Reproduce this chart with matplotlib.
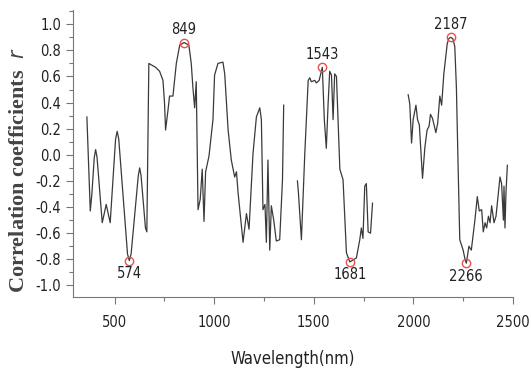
import matplotlib
matplotlib.use("Agg")
import matplotlib.pyplot as plt
import numpy as np
from matplotlib.ticker import MultipleLocator

plt.rcParams['font.family'] = ['DejaVu Sans']
plt.rcParams['font.stretch'] = 'condensed'

# four separate spectral pieces (gaps are water bands)
wl_1 = [361, 378, 386, 398, 405, 412, 438, 458, 478, 505, 513, 521, 565, 574, 583, 619, 626, 633, 655,
        662, 672, 706, 726, 743, 751, 756, 768, 776, 793,
        810, 827, 849, 873, 885, 893, 902, 910, 919, 930, 940, 949, 957, 974, 994, 1002, 1019, 1044, 1053,
        1070, 1086, 1103, 1112, 1120, 1145, 1162, 1175, 1195, 1212, 1229, 1237, 1245, 1255, 1262, 1270,
        1279, 1287, 1299, 1312, 1329, 1343, 1349]
r_1 = [0.29, -0.43, -0.30, -0.02, 0.04, -0.02, -0.52, -0.38, -0.52, 0.12, 0.18, 0.12, -0.76, -0.81, -0.76,
       -0.16, -0.10, -0.16, -0.56, -0.59, 0.70, 0.67, 0.64, 0.57, 0.39,
       0.19, 0.34, 0.45, 0.45, 0.70, 0.84, 0.86, 0.84, 0.70, 0.52, 0.36, 0.56, -0.42, -0.34, -0.11, -0.51,
       -0.13, -0.01, 0.27, 0.61, 0.70, 0.71, 0.62, 0.19, -0.04, -0.17, -0.13, -0.29, -0.67, -0.45, -0.57,
       0.01, 0.29, 0.36, 0.27, -0.42, -0.38, -0.67, -0.04, -0.73, -0.39, -0.50, -0.66, -0.65, -0.19, 0.38]

wl_2 = [1418, 1423, 1438, 1455, 1472, 1480, 1488, 1505, 1513, 1527, 1543, 1553, 1563, 1572, 1580, 1589,
        1597, 1605, 1614, 1631, 1647, 1664, 1681, 1714, 1731, 1739, 1747, 1756, 1764, 1773, 1785, 1795]
r_2 = [-0.20, -0.29, -0.65, 0.01, 0.57, 0.59, 0.56, 0.57, 0.55, 0.57, 0.67, 0.27, 0.05, 0.39, 0.64, 0.61,
       0.27, 0.62, 0.60, -0.11, -0.19, -0.75, -0.82, -0.79, -0.65, -0.56, -0.64, -0.24, -0.22, -0.59,
       -0.60, -0.37]

wl_3 = [1974, 1982, 1991, 1999, 2013, 2021, 2030, 2046, 2058, 2069, 2079, 2086, 2096, 2113, 2122, 2133,
        2142, 2153, 2170, 2178, 2187, 2198, 2208, 2216, 2225, 2233, 2250, 2258, 2266, 2279, 2291, 2309, 2321,
        2331, 2343, 2351, 2360, 2368, 2377, 2385, 2393, 2405, 2415, 2427, 2435, 2443, 2452, 2455, 2460,
        2465, 2472]
r_3 = [0.46, 0.39, 0.09, 0.27, 0.38, 0.27, 0.23, -0.18, 0.06, 0.19, 0.22, 0.31, 0.28, 0.17, 0.24, 0.45,
       0.38, 0.62, 0.85, 0.89, 0.90, 0.89, 0.83, 0.52, -0.11, -0.65, -0.73, -0.79, -0.83, -0.70, -0.73,
       -0.50, -0.32, -0.43, -0.42, -0.59, -0.52, -0.56, -0.47, -0.52, -0.39, -0.52, -0.47, -0.29, -0.17,
       -0.22, -0.50, -0.24, -0.56, -0.29, -0.08]

# marked extrema
peak_wl = [574, 849, 1543, 1681, 2187, 2266]
peak_r = [-0.81, 0.86, 0.67, -0.82, 0.90, -0.83]
peak_up = [False, True, True, False, True, False]

y_ticks = [-1.0, -0.8, -0.6, -0.4, -0.2, 0.0, 0.2, 0.4, 0.6, 0.8, 1.0]

fig = plt.figure(figsize=(5.31, 3.80), dpi=100)
ax = fig.add_axes([0.137, 0.218, 0.829, 0.756])

for wl, r in [(wl_1, r_1), (wl_2, r_2), (wl_3, r_3)]:
    ax.plot(wl, r, color='#3a3a3a', lw=0.9)

ax.plot(peak_wl, peak_r, 'o', mfc='none', mec='#e8504f', ms=6, mew=1.0)
for w, r, up in zip(peak_wl, peak_r, peak_up):
    if up:
        ax.annotate(str(w), (w, r), xytext=(0, 4), textcoords='offset points',
                    ha='center', va='bottom', fontsize=10.5, color='#222222')
    else:
        ax.annotate(str(w), (w, r), xytext=(0, -4), textcoords='offset points',
                    ha='center', va='top', fontsize=10.5, color='#222222')

ax.set_xlim(290, 2500)
ax.set_ylim(-1.09, 1.11)
ax.xaxis.set_major_locator(MultipleLocator(500))
ax.xaxis.set_minor_locator(MultipleLocator(250))
ax.yaxis.set_minor_locator(MultipleLocator(0.1))
ax.set_yticks(y_ticks)
ax.set_yticklabels([f'{v:.1f}' for v in y_ticks])

for s in ['top', 'right']:
    ax.spines[s].set_visible(False)
for s in ['left', 'bottom']:
    ax.spines[s].set_color('#777777')
    ax.spines[s].set_linewidth(0.8)

ax.tick_params(which='major', direction='out', length=5, width=0.8, colors='#777777',
               labelcolor='#222222', labelsize=10.5)
ax.tick_params(which='minor', direction='out', length=3, width=0.8, colors='#777777')
ax.tick_params(axis='x', pad=8)

ax.set_xlabel('Wavelength(nm)', fontsize=12, color='#222222', labelpad=14)
ax.set_ylabel(r'Correlation coefficients  $\it{r}$', fontsize=16, fontweight='bold',
              family='Liberation Serif', color='#444444')
ax.yaxis.set_label_coords(-0.10, 0.44)

fig.savefig('out.png', dpi=100)
